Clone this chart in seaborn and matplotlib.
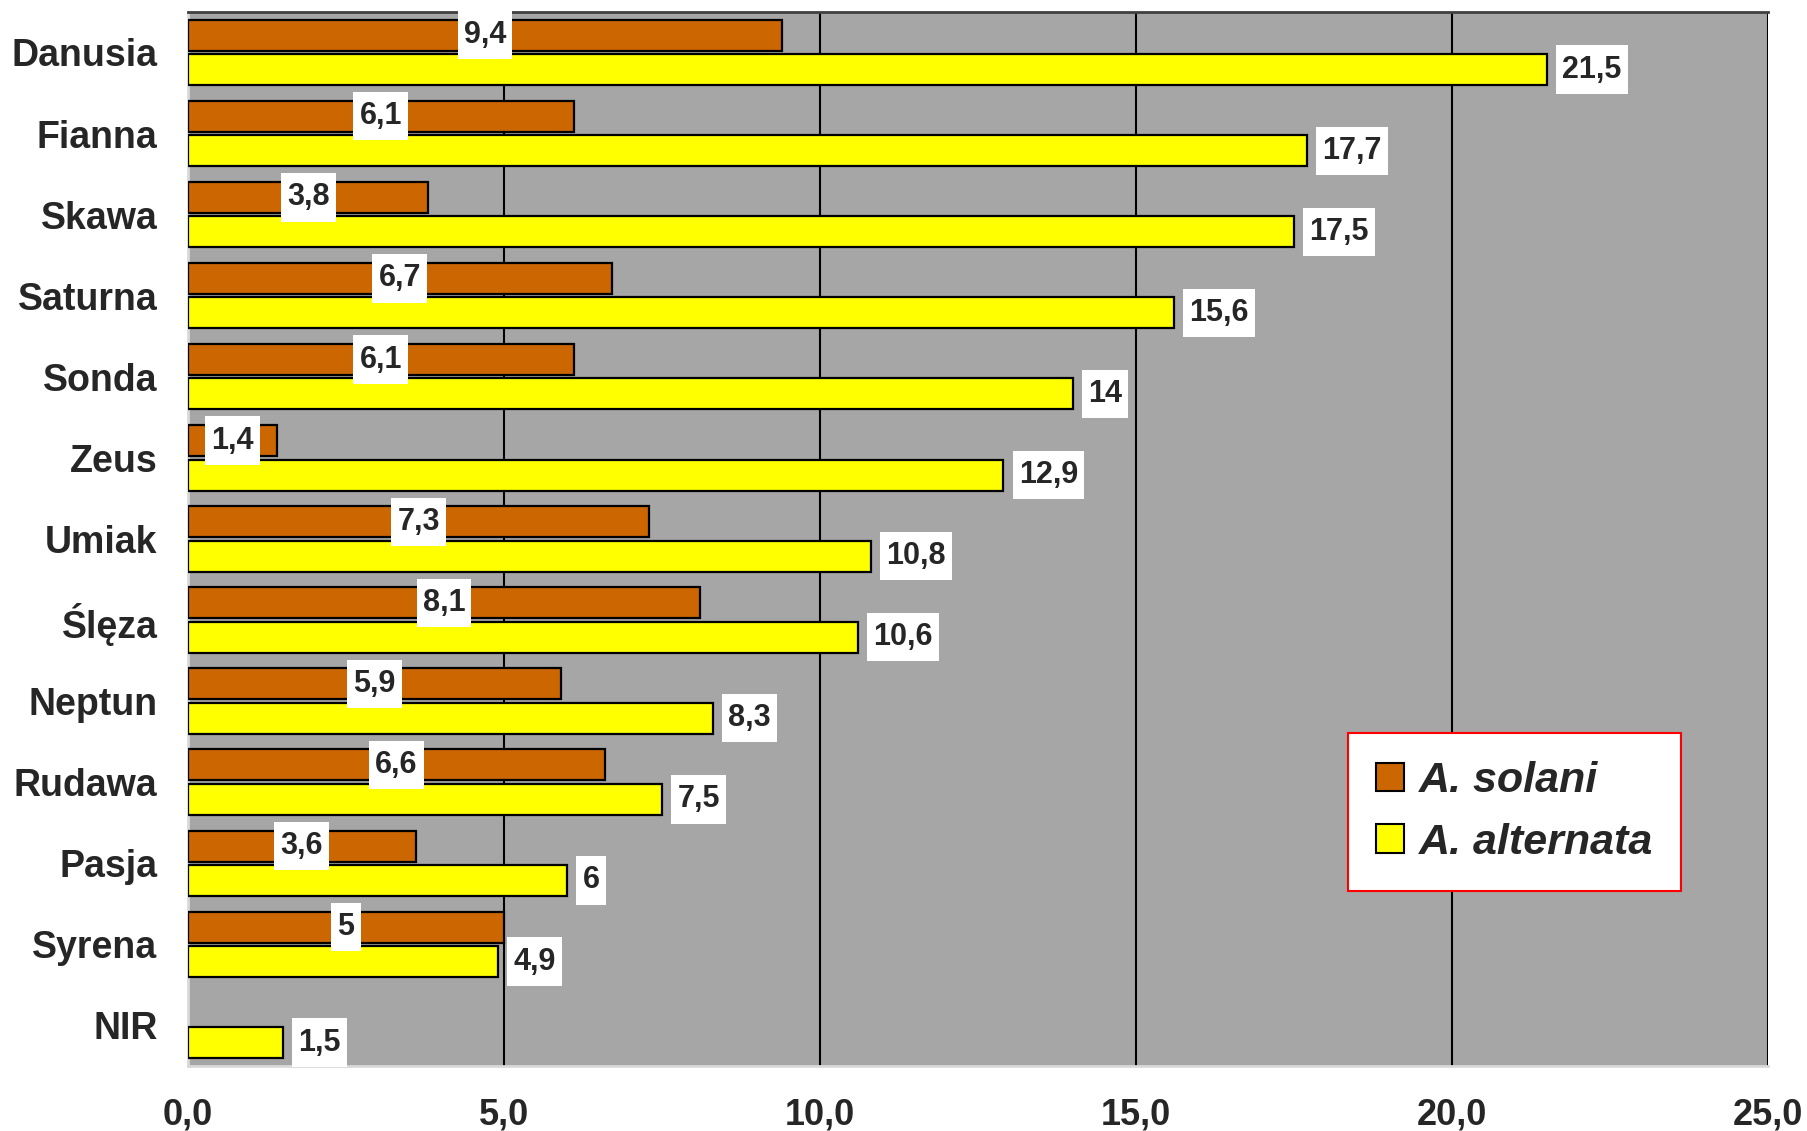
import matplotlib
matplotlib.use("Agg")
import matplotlib.pyplot as plt
from matplotlib.patches import Patch
from matplotlib.path import Path
import numpy as np
import pandas as pd
import seaborn as sns

# Cultivars (top to bottom) and infection values for both pathogens
cultivars = ["Danusia", "Fianna", "Skawa", "Saturna", "Sonda", "Zeus", "Umiak",
             "Ślęza", "Neptun", "Rudawa", "Pasja", "Syrena", "NIR"]
solani = [9.4, 6.1, 3.8, 6.7, 6.1, 1.4, 7.3, 8.1, 5.9, 6.6, 3.6, 5.0, np.nan]
alternata = [21.5, 17.7, 17.5, 15.6, 14.0, 12.9, 10.8, 10.6, 8.3, 7.5, 6.0, 4.9, 1.5]
series_names = ["A. solani", "A. alternata"]
series_colors = ["#CC6600", "#FFFF00"]
x_ticks = [0, 5, 10, 15, 20, 25]


def fmt(v):
    return f"{v:g}".replace(".", ",")


class LabelBox:
    """Rectangular box with separate horizontal and vertical padding."""

    def __init__(self, padx=0.2, pady=0.35):
        self.padx = padx
        self.pady = pady

    def __call__(self, x0, y0, width, height, mutation_size):
        px = self.padx * mutation_size
        py = self.pady * mutation_size
        x0, y0 = x0 - px, y0 - py
        x1, y1 = x0 + width + 2 * px, y0 + height + 2 * py
        return Path([(x0, y0), (x1, y0), (x1, y1), (x0, y1), (x0, y0)],
                    closed=True)


df = pd.DataFrame({
    "cultivar": cultivars * 2,
    "value": solani + alternata,
    "species": [series_names[0]] * len(cultivars) + [series_names[1]] * len(cultivars),
})

sns.set_style("white")
plt.rcParams["font.family"] = ["Liberation Sans", "DejaVu Sans"]
plt.rcParams["font.weight"] = "bold"

fig = plt.figure(figsize=(18.08, 11.31), dpi=100)
ax = fig.add_axes([0.104, 0.0575, 0.874, 0.932])
ax.set_facecolor("#A6A6A6")

BAR_W = 0.85
sns.barplot(data=df, y="cultivar", x="value", hue="species", order=cultivars,
            hue_order=series_names, palette=series_colors, orient="h",
            width=BAR_W, gap=0.1, edgecolor="black", linewidth=1.6, saturation=1,
            errorbar=None, legend=False, ax=ax, zorder=3)

ax.set_xlim(0, 25)
ax.set_ylim(len(cultivars) - 0.5, -0.5)
ax.set_xticks(x_ticks)
ax.set_xticklabels([f"{t:.1f}".replace(".", ",") for t in x_ticks],
                   fontsize=26, fontweight="bold")
ax.set_yticks(range(len(cultivars)))
ax.set_yticklabels(cultivars, fontsize=27, fontweight="bold")
ax.set_xlabel("")
ax.set_ylabel("")

# vertical gridlines
for t in x_ticks[1:]:
    ax.axvline(t, color="black", linewidth=1.5, zorder=1)

# tick marks at category boundaries
ax.set_yticks(np.arange(-0.5, len(cultivars), 1.0), minor=True)
ax.tick_params(axis="y", which="major", length=0, pad=22)
ax.tick_params(axis="y", which="minor", length=9, color="#E0E0E0", width=1.5)
ax.tick_params(axis="x", which="major", length=9, color="#E0E0E0", width=1.5, pad=14)

for side in ["left", "bottom"]:
    ax.spines[side].set_color("#D9D9D9")
    ax.spines[side].set_linewidth(2)
ax.spines["top"].set_color("#404040")
ax.spines["top"].set_linewidth(2)
ax.spines["right"].set_visible(False)

off = BAR_W / 4
box = dict(boxstyle=LabelBox(0.2, 0.3), facecolor="white", edgecolor="none")
for i, (s, a) in enumerate(zip(solani, alternata)):
    if not np.isnan(s):
        ax.annotate(fmt(s), xy=(s / 2, i - off), ha="center", va="center",
                    fontsize=22, fontweight="bold", bbox=box, zorder=5)
    ax.annotate(fmt(a), xy=(a, i + off), xytext=(11, 0), textcoords="offset points",
                ha="left", va="center", fontsize=22, fontweight="bold", bbox=box, zorder=5)

handles = [Patch(facecolor=c, edgecolor="black", linewidth=1.5) for c in series_colors]
leg = ax.legend(handles, series_names, loc="center", bbox_to_anchor=(0.8395, 0.241),
                prop=dict(family="Liberation Sans", weight="bold", style="italic", size=31),
                frameon=True, fancybox=False, framealpha=1, edgecolor="#FF0000",
                handlelength=0.65, handleheight=0.65, handletextpad=0.35,
                labelspacing=0.5, borderpad=0.65, borderaxespad=0)
leg.get_frame().set_linewidth(1.5)
leg.set_zorder(6)

fig.savefig("out.png", dpi=100, facecolor="white")
